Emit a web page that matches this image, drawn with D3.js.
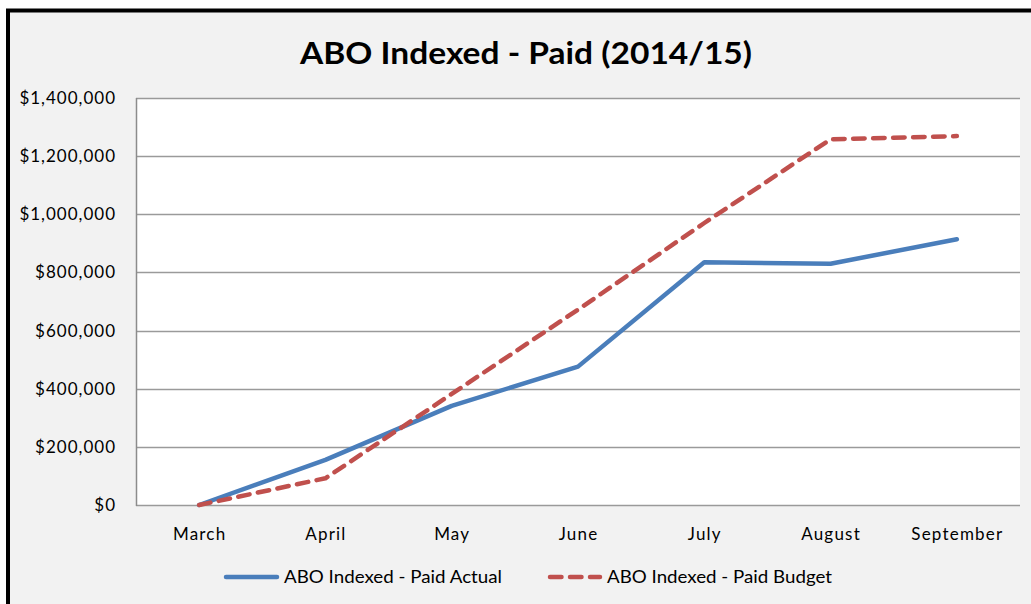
<!DOCTYPE html>
<html><head><meta charset="utf-8">
<script src="https://cdn.jsdelivr.net/npm/d3@7"></script>
<style>body{margin:0;background:#fff}svg{display:block}text{font-family:Lato,"Open Sans",sans-serif}</style>
</head><body>
<script>
const months = ["March","April","May","June","July","August","September"];
const actual = [0,155000,341000,476000,835000,830000,914000];
const budget = [0,92000,382000,672000,970000,1258000,1269000];
const yTicks = [0,200000,400000,600000,800000,1000000,1200000,1400000];
const seriesNames = ["ABO Indexed - Paid Actual","ABO Indexed - Paid Budget"];
const title = "ABO Indexed - Paid (2014/15)";

const W=1031,H=604;
const svg=d3.select("body").append("svg").attr("width",W).attr("height",H);
// outer chart area
svg.append("rect").attr("x",8).attr("y",10.5).attr("width",W+10).attr("height",H+10)
  .attr("fill","#f2f2f2").attr("stroke","#000").attr("stroke-width",4);

const L=136,R=1020,T=98,B=505;
const x=d3.scaleBand().domain(months).range([L,R]);
const y=d3.scaleLinear().domain([0,1400000]).range([B,T]);

svg.append("rect").attr("x",L).attr("y",T).attr("width",R-L).attr("height",B-T).attr("fill","#fff");

// grid
svg.append("g").selectAll("line").data(yTicks).join("line")
  .attr("x1",L).attr("x2",R).attr("y1",d=>Math.round(y(d))+0.5).attr("y2",d=>Math.round(y(d))+0.5)
  .attr("stroke","#9a9a9a").attr("stroke-width",1.5);
svg.append("line").attr("x1",L+0.5).attr("x2",L+0.5).attr("y1",T).attr("y2",B+1)
  .attr("stroke","#8c8c8c").attr("stroke-width",1.5);

// y axis labels
const fmt=d=>"$"+d3.format(",")(d);
svg.append("g").selectAll("text").data(yTicks).join("text")
  .attr("x",116).attr("y",d=>y(d)).attr("dy","0.35em").attr("text-anchor","end")
  .attr("font-size",17).attr("letter-spacing","1px").attr("fill","#000").text(fmt);

// x labels
svg.append("g").selectAll("text").data(months).join("text")
  .attr("x",d=>x(d)+x.bandwidth()/2+0.5).attr("y",534).attr("dy","0.35em").attr("text-anchor","middle")
  .attr("font-size",17).attr("letter-spacing","1.2px").attr("fill","#000").text(d=>d);

const line=d3.line().x((d,i)=>x(months[i])+x.bandwidth()/2).y(d=>y(d));
svg.append("path").datum(actual).attr("d",line).attr("fill","none")
  .attr("stroke","#4a7ebb").attr("stroke-width",4.5).attr("stroke-linejoin","round").attr("stroke-linecap","round");
svg.append("path").datum(budget).attr("d",line).attr("fill","none")
  .attr("stroke","#c0504d").attr("stroke-width",4.5).attr("stroke-dasharray","11.5,8.5").attr("stroke-linecap","round").attr("stroke-linejoin","round");

// title
svg.append("text").attr("x",526).attr("y",53).attr("dy","0.35em").attr("text-anchor","middle")
  .attr("font-size",30).attr("font-weight","bold").attr("fill","#000")
  .attr("textLength",452).attr("lengthAdjust","spacingAndGlyphs").text(title);

// legend
const lg=svg.append("g");
lg.append("line").attr("x1",226).attr("x2",277).attr("y1",577).attr("y2",577)
  .attr("stroke","#4a7ebb").attr("stroke-width",4.5).attr("stroke-linecap","round");
lg.append("text").attr("x",284).attr("y",577).attr("dy","0.35em").attr("font-size",17)
  .attr("textLength",218).attr("lengthAdjust","spacingAndGlyphs").text(seriesNames[0]);
lg.append("line").attr("x1",550).attr("x2",600).attr("y1",577).attr("y2",577)
  .attr("stroke","#c0504d").attr("stroke-width",4.5).attr("stroke-dasharray","11.5,8.5").attr("stroke-linecap","round");
lg.append("text").attr("x",607).attr("y",577).attr("dy","0.35em").attr("font-size",17)
  .attr("textLength",225).attr("lengthAdjust","spacingAndGlyphs").text(seriesNames[1]);
</script>
</body></html>
